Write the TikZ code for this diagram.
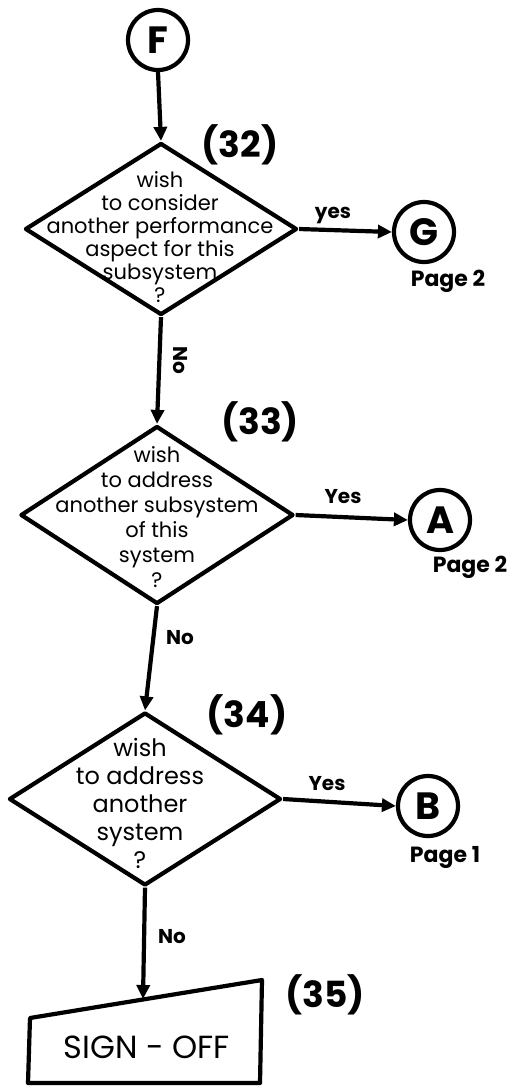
\documentclass[tikz,border=0pt]{standalone}
\usepackage{fontspec}
\setmainfont{Poppins}
\usetikzlibrary{shapes.geometric,arrows.meta}
\begin{document}
\begin{tikzpicture}[x=1pt,y=-1pt,line width=4.2pt,line join=round,
  decision/.style={draw, shape=diamond, inner sep=0pt},
  conn/.style={draw, circle, minimum size=60pt, inner sep=0pt, font=\fontsize{38}{38}\selectfont\bfseries},
  flow/.style={-{Triangle[length=14pt,width=13pt]}},
  qtext/.style={align=center, inner sep=0pt, font=#1},
  stepnum/.style={font=\fontsize{36}{36}\selectfont\bfseries, inner sep=0pt},
  yn/.style={font=\fontsize{20}{20}\selectfont\bfseries, inner sep=0pt},
  pagelbl/.style={font=\fontsize{22}{22}\selectfont\bfseries, inner sep=0pt}]
\useasboundingbox (0,0) rectangle (517,1088);

% connectors
\node[conn] (F) at (158,40) {F};
\node[conn] (G) at (424,232) {G};
\node[conn] (A) at (440,520) {A};
\node[conn] (B) at (428,806) {B};

% decisions
\node[decision, minimum width=272pt, minimum height=172pt] (d32) at (161,229) {};
\node[decision, minimum width=273pt, minimum height=178pt] (d33) at (157,515) {};
\node[decision, minimum width=272pt, minimum height=173pt] (d34) at (145,799) {};

\node[qtext={\fontsize{21}{23}\selectfont}] (t32) at (160,237) {wish\\to consider\\another performance\\aspect for this\\subsystem\\?};
\node[qtext={\fontsize{21}{25}\selectfont}] (t33) at (157,517) {wish\\to address\\another subsystem\\of this\\system\\?};
\node[qtext={\fontsize{24}{28}\selectfont}] (t34) at (140,803) {wish\\to address\\another\\system\\?};

% step numbers
\node[stepnum] (n32) at (240,145) {(32)};
\node[stepnum] (n33) at (260,422) {(33)};
\node[stepnum] (n34) at (247,715) {(34)};
\node[stepnum] (n35) at (325,995) {(35)};

% page labels
\node[pagelbl] (p32) at (448,281) {Page 2};
\node[pagelbl] (p33) at (470,567) {Page 2};
\node[pagelbl] (p34) at (445,857) {Page 1};

% sign-off (manual input)
\coordinate (soTL) at (30,1018);
\coordinate (soTR) at (262,980);
\coordinate (soBR) at (260,1083);
\coordinate (soBL) at (28,1083);
\coordinate (soTop) at (143,999);
\draw (soTL) -- (soTR) -- (soBR) -- (soBL) -- cycle;
\node[font=\fontsize{32}{32}\selectfont, inner sep=0pt] (so) at (147,1047) {SIGN - OFF};

% flow lines
\draw[flow] (F.south) -- (d32.north);
\draw[flow] (d32.east) -- (G.west);
\draw[flow] (d32.south) -- (d33.north);
\draw[flow] (d33.east) -- (A.west);
\draw[flow] (d33.south) -- (d34.north);
\draw[flow] (d34.east) -- (B.west);
\draw[flow] (d34.south) -- (soTop);

% branch labels
\node[yn] (y32) at (333,215) {yes};
\node[yn] (y33) at (343,497) {Yes};
\node[yn] (y34) at (327,784) {Yes};
\node[yn, rotate=-90] (no32) at (180,360) {No};
\node[yn] (no33) at (180,638) {No};
\node[yn] (no34) at (172,937) {No};
\end{tikzpicture}
\end{document}
